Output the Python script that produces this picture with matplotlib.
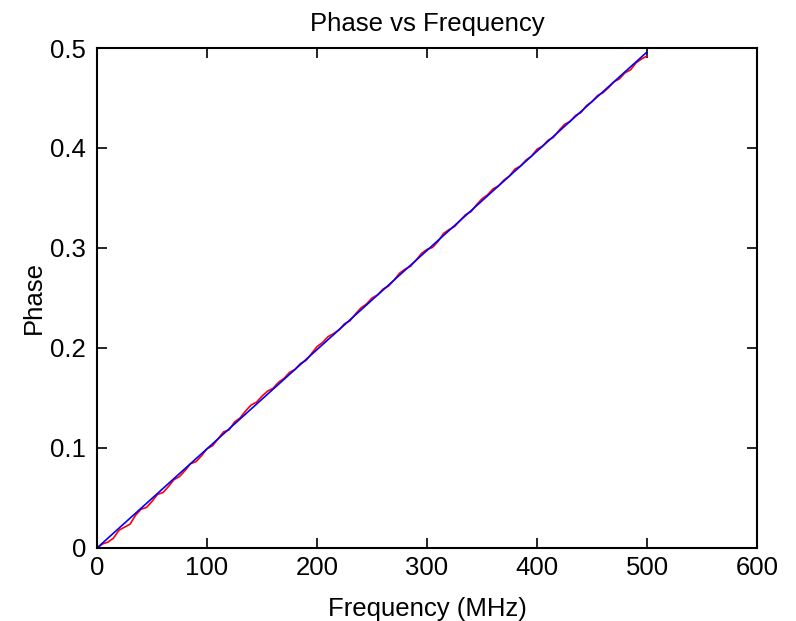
import numpy as np
import matplotlib
matplotlib.use("Agg")
import matplotlib.pyplot as plt

# frequency grid (MHz)
freq = np.arange(0, 505, 5)

# measured phase (red, wiggly)
phase_meas = [
    0.0000, 0.0040, 0.0059, 0.0099, 0.0178, 0.0208, 0.0238, 0.0327, 0.0387, 0.0406,
    0.0466, 0.0536, 0.0555, 0.0615, 0.0684, 0.0714, 0.0774, 0.0843, 0.0863, 0.0922,
    0.0992, 0.1022, 0.1091, 0.1161, 0.1180, 0.1260, 0.1300, 0.1369, 0.1429, 0.1458,
    0.1518, 0.1568, 0.1597, 0.1657, 0.1696, 0.1756, 0.1786, 0.1845, 0.1875, 0.1944,
    0.2014, 0.2054, 0.2113, 0.2143, 0.2182, 0.2242, 0.2272, 0.2341, 0.2401, 0.2440,
    0.2500, 0.2530, 0.2589, 0.2619, 0.2678, 0.2748, 0.2788, 0.2817, 0.2877, 0.2946,
    0.2986, 0.3006, 0.3065, 0.3145, 0.3184, 0.3214, 0.3274, 0.3333, 0.3363, 0.3432,
    0.3492, 0.3532, 0.3591, 0.3621, 0.3680, 0.3720, 0.3790, 0.3819, 0.3879, 0.3918,
    0.3988, 0.4018, 0.4077, 0.4107, 0.4176, 0.4236, 0.4266, 0.4325, 0.4355, 0.4424,
    0.4464, 0.4524, 0.4553, 0.4603, 0.4662, 0.4692, 0.4752, 0.4781, 0.4851, 0.4890,
    0.4920,
]

# linear fit (blue)
fit_freq = [0, 500]
fit_phase = [0.0, 0.496]

plt.rcParams["font.family"] = ["Liberation Sans", "DejaVu Sans"]

fig = plt.figure(figsize=(7.96, 6.21), dpi=100)
ax = fig.add_axes([0.1219, 0.1176, 0.8291, 0.8051])

ax.plot(freq, phase_meas, color="red", linewidth=1.2)
ax.plot(fit_freq, fit_phase, color="blue", linewidth=1.2)

ax.set_xlim(0, 600)
ax.set_ylim(0, 0.5)
ax.set_xticks([0, 100, 200, 300, 400, 500, 600])
ax.set_yticks([0, 0.1, 0.2, 0.3, 0.4, 0.5])
ax.set_yticklabels(["0", "0.1", "0.2", "0.3", "0.4", "0.5"])

ax.tick_params(direction="in", top=True, right=True, length=7, width=1.2,
               labelsize=18.5)
ax.tick_params(axis="x", pad=6)
ax.tick_params(axis="y", pad=8)
for sp in ax.spines.values():
    sp.set_linewidth(1.5)

ax.set_title("Phase vs Frequency", fontsize=18.5, pad=12)
ax.set_xlabel("Frequency (MHz)", fontsize=18.5, labelpad=12)
ax.set_ylabel("Phase", fontsize=18.5, labelpad=3)

fig.savefig("out.png", dpi=100)
